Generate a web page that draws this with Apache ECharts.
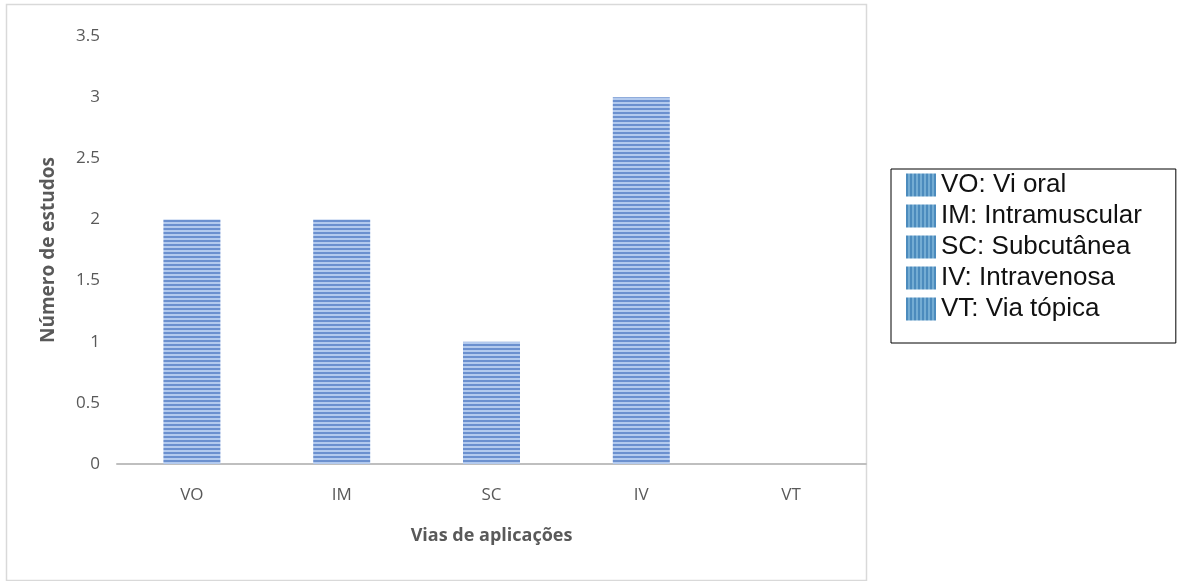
<!DOCTYPE html>
<html>
<head>
    <meta charset="utf-8">
    <title>Vias de aplicações</title>
    <script src="https://cdn.jsdelivr.net/npm/echarts@6/dist/echarts.min.js"></script>
    <style>
        html, body { margin: 0; padding: 0; background: #fff; }
        #chart { width: 1182px; height: 581px; }
    </style>
</head>
<body>
<div id="chart"></div>
<script type="text/javascript">
    var categories = ['VO', 'IM', 'SC', 'IV', 'VT'];
    var values = [2, 2, 1, 3, 0];
    var legendLabels = ['VO: Vi oral', 'IM: Intramuscular', 'SC: Subcutânea', 'IV: Intravenosa', 'VT: Via tópica'];

    // listras das barras (horizontais) e da legenda (verticais)
    function stripes(w, h, dark, light, vertical) {
        var c = document.createElement('canvas');
        c.width = w; c.height = h;
        var ctx = c.getContext('2d');
        ctx.fillStyle = light;
        ctx.fillRect(0, 0, w, h);
        ctx.fillStyle = dark;
        if (vertical) ctx.fillRect(0, 0, w / 2, h);
        else ctx.fillRect(0, 0, w, h / 2);
        return c;
    }
    var barPattern = { image: stripes(4, 4, '#6b90cf', '#b3caee', false), repeat: 'repeat' };
    var legendPattern = { image: stripes(4, 4, '#4c8bbd', '#74acd3', true), repeat: 'repeat' };

    var series = [];
    for (var i = 0; i < categories.length; i++) {
        var d = [];
        for (var j = 0; j < categories.length; j++) {
            d.push(j === i ? values[i] : '-');
        }
        series.push({
            name: legendLabels[i],
            type: 'bar',
            stack: 'all',
            barWidth: 57,
            data: d,
            itemStyle: { color: barPattern }
        });
    }

    var myChart = echarts.init(document.getElementById('chart'));
    var option = {
        animation: false,
        grid: { left: 117, right: 316, top: 36, bottom: 117 },
        legend: {
            orient: 'vertical',
            left: 891,
            top: 169,
            padding: [3, 34, 21, 15],
            borderColor: '#000',
            borderWidth: 1,
            itemWidth: 30,
            itemHeight: 23,
            itemGap: 5,
            selectedMode: false,
            textStyle: { fontFamily: 'Liberation Sans', fontSize: 26, color: '#111' },
            data: legendLabels.map(function (n) {
                return { name: n, icon: 'rect', itemStyle: { color: legendPattern, borderWidth: 0 } };
            })
        },
        xAxis: {
            type: 'category',
            data: categories,
            name: 'Vias de aplicações',
            nameLocation: 'middle',
            nameGap: 63,
            nameTextStyle: { fontFamily: 'Open Sans', fontSize: 18, fontWeight: 'bold', color: '#595959' },
            axisLine: { lineStyle: { color: '#bfbfbf', width: 2 } },
            axisTick: { show: false },
            axisLabel: { margin: 23, fontFamily: 'Open Sans', fontSize: 17, color: '#595959' }
        },
        yAxis: {
            type: 'value',
            min: 0,
            max: 3.5,
            interval: 0.5,
            name: 'Número de estudos',
            nameLocation: 'middle',
            nameGap: 59,
            nameTextStyle: { fontFamily: 'Open Sans', fontSize: 19, fontWeight: 'bold', color: '#595959' },
            axisLine: { show: false },
            axisTick: { show: false },
            splitLine: { show: false },
            axisLabel: { margin: 17, fontFamily: 'Open Sans', fontSize: 17, color: '#595959' }
        },
        graphic: [{
            type: 'rect',
            shape: { x: 6.5, y: 4.5, width: 860, height: 576 },
            style: { fill: 'none', stroke: '#d9d9d9', lineWidth: 1.5 },
            silent: true
        }],
        series: series
    };
    myChart.setOption(option);
</script>
</body>
</html>
